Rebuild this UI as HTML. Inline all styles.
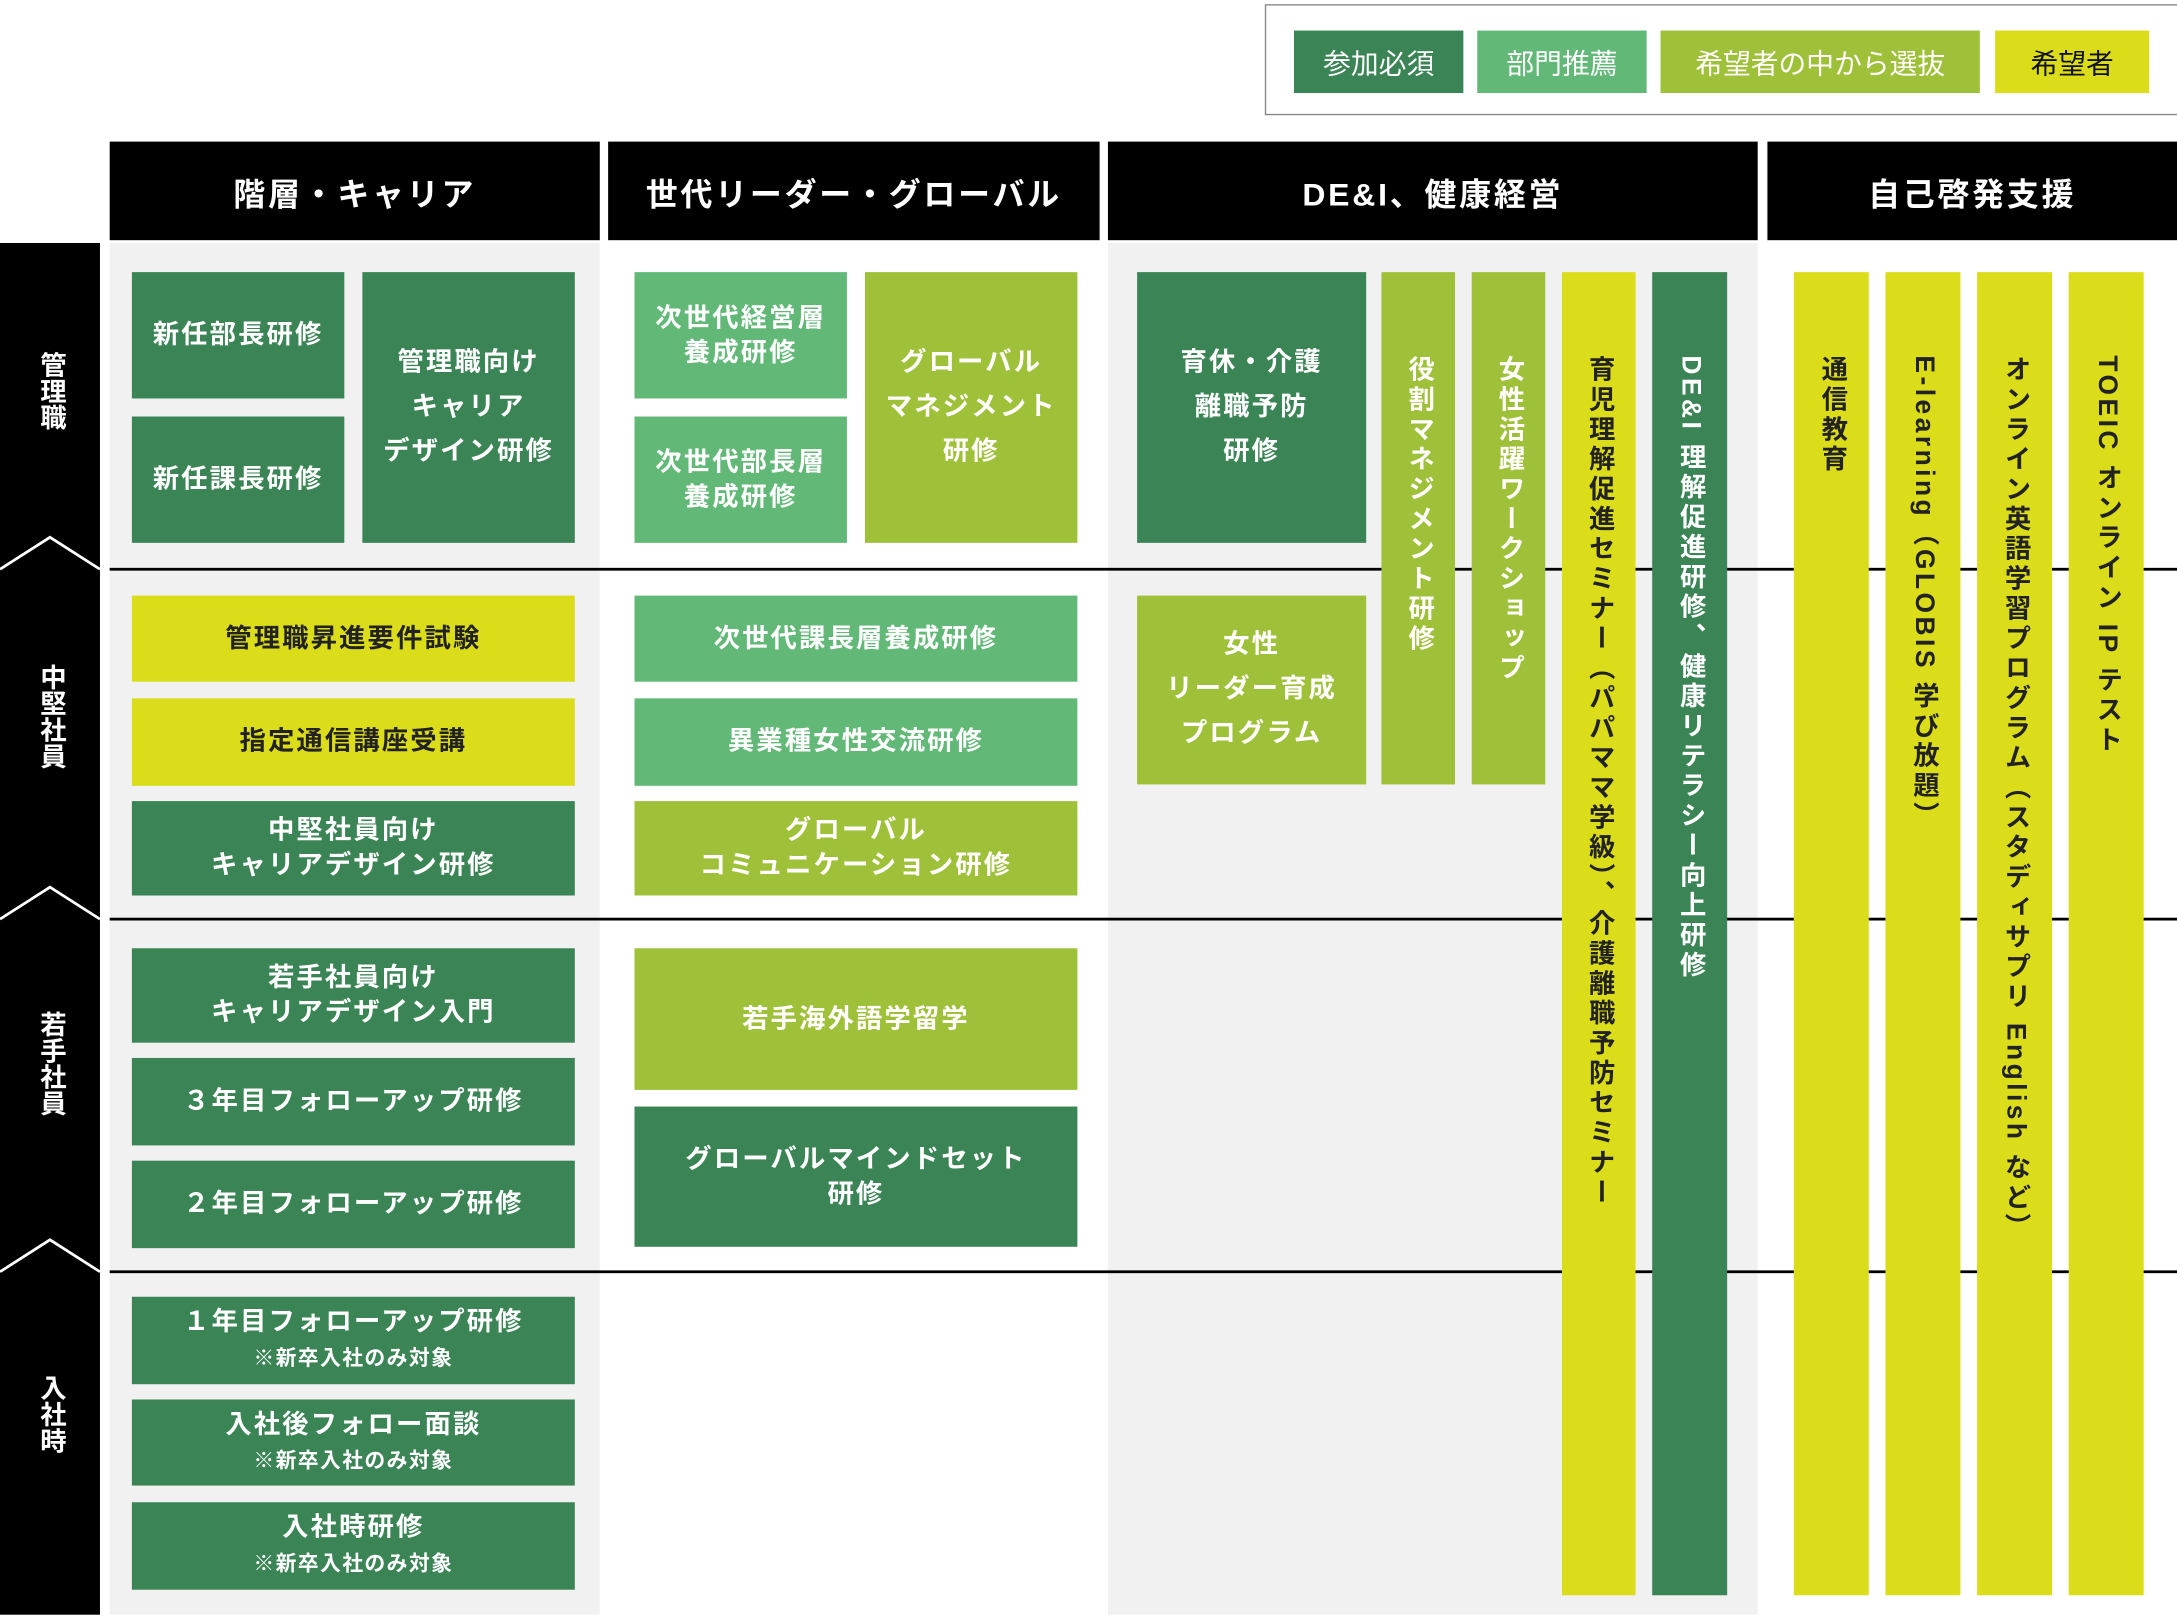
<!DOCTYPE html>
<html><head><meta charset="utf-8"><style>
html,body{margin:0;padding:0;background:#fff;width:2177px;height:1617px;overflow:hidden}
#w{position:absolute;left:0;top:0;width:1568px;height:1165px;transform:scale(1.38839);transform-origin:0 0;font-family:"Liberation Sans","Noto Sans CJK JP",sans-serif}
.a{position:absolute;box-sizing:border-box}
.b{position:absolute;box-sizing:border-box;display:flex;align-items:center;justify-content:center;text-align:center;font-weight:bold;font-size:19px;line-height:25px;letter-spacing:1.5px;color:#fff}
.d{background:#3a8455}.m{background:#62b977}.o{background:#9fc13a}.y{background:#dbdc1a;color:#222}
.v{position:absolute;box-sizing:border-box;writing-mode:vertical-rl;font-weight:bold;font-size:19px;line-height:22px;color:#fff;padding-top:60px;display:flex;align-items:center;letter-spacing:2.5px}
.v.y{color:#222}
.h{position:absolute;top:102px;height:71px;background:#000;color:#fff;font-weight:bold;font-size:23px;letter-spacing:2px;display:flex;align-items:center;justify-content:center}
.lg{position:absolute;top:22px;height:45px;display:flex;align-items:center;justify-content:center;font-size:20px;color:#fff}
.l{position:absolute;writing-mode:vertical-rl;color:#fff;font-weight:bold;font-size:19px;left:26px;line-height:20px}
.hl{position:absolute;left:79px;width:1489px;height:2px;background:#000}
small{font-size:15px;letter-spacing:1px}
</style></head><body><div id="w">
<div class="a" style="left:911px;top:3px;width:660px;height:80px;border:1px solid #888"></div>
<div class="lg d" style="left:932px;width:122px">参加必須</div>
<div class="lg m" style="left:1064px;width:122px">部門推薦</div>
<div class="lg o" style="left:1196px;width:230px">希望者の中から選抜</div>
<div class="lg" style="left:1437px;width:111px;background:#dbdc1a;color:#111">希望者</div>

<div class="h" style="left:79px;width:353px">階層・キャリア</div>
<div class="h" style="left:438px;width:354px">世代リーダー・グローバル</div>
<div class="h" style="left:798px;width:468px">DE&amp;I、健康経営</div>
<div class="h" style="left:1273px;width:295px">自己啓発支援</div>

<div class="a" style="left:79px;top:175px;width:353px;height:988px;background:#f1f1f1"></div>
<div class="a" style="left:798px;top:175px;width:468px;height:988px;background:#f1f1f1"></div>

<div class="a" style="left:0;top:175px;width:72px;height:988px;background:#000"></div>
<svg class="a" style="left:0;top:0" width="80" height="1165"><g fill="none" stroke="#fff" stroke-width="2"><polyline points="0,410 36,387 72,410"/><polyline points="0,662 36,639 72,662"/><polyline points="0,916 36,893 72,916"/></g></svg>
<div class="l" style="top:253px">管理職</div>
<div class="l" style="top:478px">中堅社員</div>
<div class="l" style="top:728px">若手社員</div>
<div class="l" style="top:990px">入社時</div>

<div class="hl" style="top:409px"></div>
<div class="hl" style="top:661px"></div>
<div class="hl" style="top:915px"></div>

<div class="b d" style="left:95px;top:196px;width:153px;height:91px"><span>新任部長研修</span></div>
<div class="b d" style="left:95px;top:300px;width:153px;height:91px"><span>新任課長研修</span></div>
<div class="b d" style="left:261px;top:196px;width:153px;height:195px;line-height:32px"><span>管理職向け<br>キャリア<br>デザイン研修</span></div>
<div class="b y" style="left:95px;top:429px;width:319px;height:62px"><span>管理職昇進要件試験</span></div>
<div class="b y" style="left:95px;top:503px;width:319px;height:63px"><span>指定通信講座受講</span></div>
<div class="b d" style="left:95px;top:577px;width:319px;height:68px"><span>中堅社員向け<br>キャリアデザイン研修</span></div>
<div class="b d" style="left:95px;top:683px;width:319px;height:68px"><span>若手社員向け<br>キャリアデザイン入門</span></div>
<div class="b d" style="left:95px;top:762px;width:319px;height:63px"><span>３年目フォローアップ研修</span></div>
<div class="b d" style="left:95px;top:836px;width:319px;height:63px"><span>２年目フォローアップ研修</span></div>
<div class="b d" style="left:95px;top:934px;width:319px;height:63px"><span>１年目フォローアップ研修<br><small>※新卒入社のみ対象</small></span></div>
<div class="b d" style="left:95px;top:1008px;width:319px;height:62px"><span>入社後フォロー面談<br><small>※新卒入社のみ対象</small></span></div>
<div class="b d" style="left:95px;top:1082px;width:319px;height:63px"><span>入社時研修<br><small>※新卒入社のみ対象</small></span></div>

<div class="b m" style="left:457px;top:196px;width:153px;height:91px"><span>次世代経営層<br>養成研修</span></div>
<div class="b m" style="left:457px;top:300px;width:153px;height:91px"><span>次世代部長層<br>養成研修</span></div>
<div class="b o" style="left:623px;top:196px;width:153px;height:195px;line-height:32px"><span>グローバル<br>マネジメント<br>研修</span></div>
<div class="b m" style="left:457px;top:429px;width:319px;height:62px"><span>次世代課長層養成研修</span></div>
<div class="b m" style="left:457px;top:503px;width:319px;height:63px"><span>異業種女性交流研修</span></div>
<div class="b o" style="left:457px;top:577px;width:319px;height:68px"><span>グローバル<br>コミュニケーション研修</span></div>
<div class="b o" style="left:457px;top:683px;width:319px;height:102px"><span>若手海外語学留学</span></div>
<div class="b d" style="left:457px;top:797px;width:319px;height:101px"><span>グローバルマインドセット<br>研修</span></div>

<div class="b d" style="left:819px;top:196px;width:165px;height:195px;line-height:32px"><span>育休・介護<br>離職予防<br>研修</span></div>
<div class="b o" style="left:819px;top:429px;width:165px;height:136px;line-height:32px"><span>女性<br>リーダー育成<br>プログラム</span></div>
<div class="v o" style="left:995px;top:196px;width:53px;height:369px"><span>役割マネジメント研修</span></div>
<div class="v o" style="left:1060px;top:196px;width:53px;height:369px"><span>女性活躍ワークショップ</span></div>
<div class="v y" style="left:1125px;top:196px;width:53px;height:953px"><span>育児理解促進セミナー（パパママ学級）、介護離職予防セミナー</span></div>
<div class="v d" style="left:1190px;top:196px;width:54px;height:953px"><span style="white-space:nowrap">DE&amp;I 理解促進研修、健康リテラシー向上研修</span></div>

<div class="v y" style="left:1292px;top:196px;width:54px;height:953px"><span>通信教育</span></div>
<div class="v y" style="left:1358px;top:196px;width:54px;height:953px"><span>E-learning（GLOBIS 学び放題）</span></div>
<div class="v y" style="left:1424px;top:196px;width:54px;height:953px"><span>オンライン英語学習プログラム（スタディサプリ English など）</span></div>
<div class="v y" style="left:1490px;top:196px;width:54px;height:953px"><span>TOEIC オンライン IP テスト</span></div>
</div></body></html>
